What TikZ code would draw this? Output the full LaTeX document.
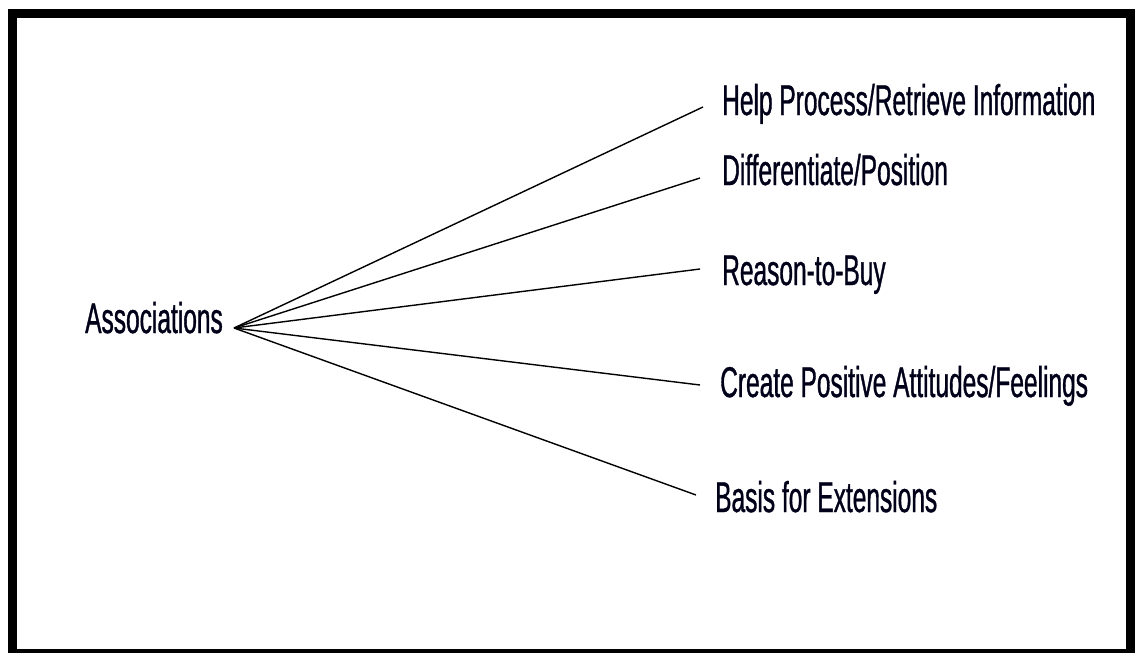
\documentclass[tikz,border=0pt]{standalone}
\usepackage{fontspec}
\setmainfont[FakeStretch=0.57,FakeBold=0.8]{Liberation Sans}
\begin{document}
\begin{tikzpicture}[x=1pt,y=-1pt,
  lbl/.style={anchor=base west,inner sep=0pt,font=\fontsize{43}{50}\selectfont,text=black!90!blue},
  conn/.style={draw=black,line width=1.4pt}]
\useasboundingbox (0,0) rectangle (1136,653);
\fill[white] (0,0) rectangle (1136,653);
\draw[line width=9pt] (12,13.5) rectangle (1130.5,653.5);
\node[lbl] (assoc) at (85,333) {Associations};
\node[lbl] (help) at (722,115) {Help Process/Retrieve Information};
\node[lbl] (diff) at (722,185) {Differentiate/Position};
\node[lbl] (reason) at (722,285) {Reason-to-Buy};
\node[lbl] (create) at (720,397) {Create Positive Attitudes/Feelings};
\node[lbl] (basis) at (715,512) {Basis for Extensions};
\coordinate (apex) at (234,328);
\coordinate (e1) at (703,107);
\coordinate (e2) at (700,178);
\coordinate (e3) at (700,269);
\coordinate (e4) at (700,385);
\coordinate (e5) at (696,495);
\foreach \e in {e1,e2,e3,e4,e5} \draw[conn] (apex) -- (\e);
\end{tikzpicture}
\end{document}
